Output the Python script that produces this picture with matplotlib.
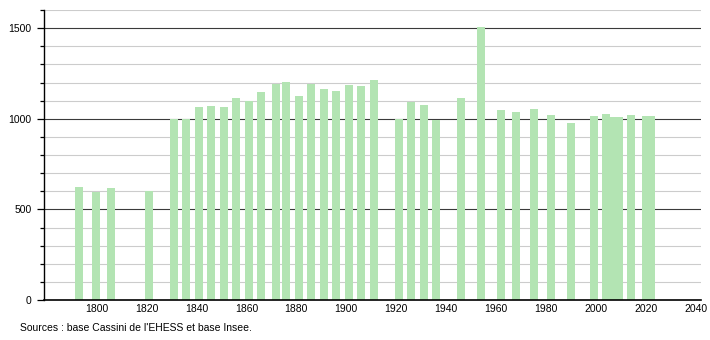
import matplotlib.pyplot as plt
from matplotlib.ticker import MultipleLocator

years = [1793, 1800, 1806, 1821, 1831, 1836, 1841, 1846, 1851, 1856,
         1861, 1866, 1872, 1876, 1881, 1886, 1891, 1896, 1901, 1906,
         1911, 1921, 1926, 1931, 1936, 1946, 1954, 1962, 1968, 1975,
         1982, 1990, 1999, 2004, 2006, 2007, 2008, 2009, 2014, 2020, 2022]
population = [622, 594, 616, 601, 997, 997, 1063, 1070, 1063, 1113,
              1100, 1149, 1193, 1204, 1126, 1193, 1162, 1151, 1186, 1181,
              1212, 997, 1094, 1074, 993, 1113, 1505, 1048, 1039, 1054,
              1021, 975, 1017, 1026, 1010, 1010, 1010, 1010, 1021, 1015, 1015]

x_ticks = [1800, 1820, 1840, 1860, 1880, 1900, 1920, 1940, 1960, 1980, 2000, 2020, 2040]
y_ticks = [0, 500, 1000, 1500]

plt.rcParams['font.family'] = ['Liberation Sans', 'DejaVu Sans']
plt.rcParams['font.size'] = 7.5

fig = plt.figure(figsize=(7.1, 3.4), dpi=100)
ax = fig.add_axes([44 / 710, 40 / 340, 657 / 710, 290 / 340])

# grid lines under the bars
for v in range(100, 1700, 100):
    if v % 500 == 0:
        ax.axhline(v, color='#3a3a3a', lw=0.8, zorder=1)
    else:
        ax.axhline(v, color='#cccccc', lw=0.8, zorder=1)

ax.bar(years, population, width=3.2, color='#b3e4b3', zorder=2)

ax.set_xlim(1779, 2042)
ax.set_ylim(0, 1600)
ax.set_xticks(x_ticks)
ax.set_yticks(y_ticks)
ax.yaxis.set_minor_locator(MultipleLocator(100))
ax.tick_params(axis='x', length=0, pad=3)
ax.tick_params(axis='y', which='major', length=5, width=0.9, pad=4)
ax.tick_params(axis='y', which='minor', length=3, width=0.9)

for s in ['top', 'right']:
    ax.spines[s].set_visible(False)
ax.spines['left'].set_linewidth(1.0)
ax.spines['bottom'].set_linewidth(1.2)

fig.text(20 / 710, 1 - 328 / 340, "Sources : base Cassini de l'EHESS et base Insee.",
         ha='left', va='center', fontsize=7.5)

fig.savefig('out.png', dpi=100)
